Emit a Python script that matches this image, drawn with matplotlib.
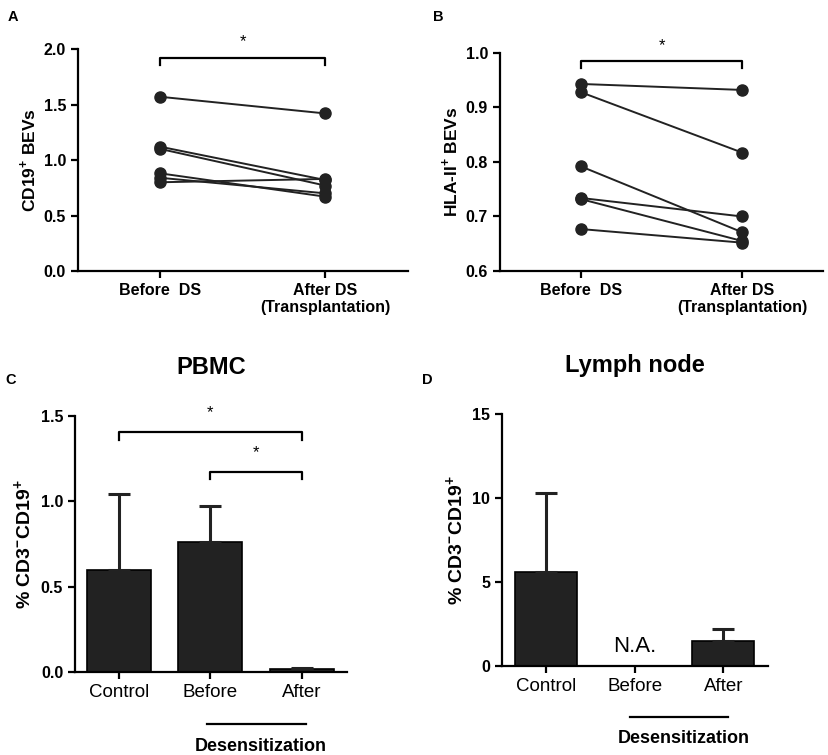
import matplotlib
matplotlib.use("Agg")
import matplotlib.pyplot as plt
import numpy as np

plt.rcParams['font.family'] = ['Liberation Sans', 'DejaVu Sans']
plt.rcParams['mathtext.fontset'] = 'custom'
plt.rcParams['mathtext.rm'] = 'Liberation Sans'
plt.rcParams['mathtext.bf'] = 'Liberation Sans:bold'

# panel A: CD19+ BEVs, paired samples
a_before = [1.57, 1.12, 1.10, 0.88, 0.84, 0.80]
a_after = [1.42, 0.82, 0.77, 0.67, 0.70, 0.83]

# panel B: HLA-II+ BEVs, paired samples
b_before = [0.943, 0.928, 0.792, 0.734, 0.732, 0.677]
b_after = [0.932, 0.817, 0.671, 0.700, 0.655, 0.652]

pair_labels = ['Before  DS', 'After DS\n(Transplantation)']

# panels C and D: bar means with upper error
groups = ['Control', 'Before', 'After']
c_mean = [0.60, 0.76, 0.02]
c_err = [0.44, 0.21, 0.005]
d_mean = [5.6, np.nan, 1.47]
d_err = [4.7, np.nan, 0.70]

dark = '#222222'

fig = plt.figure(figsize=(8.29, 7.55), dpi=100)
axA = fig.add_axes([0.094, 0.641, 0.398, 0.294])
axB = fig.add_axes([0.603, 0.641, 0.390, 0.289])
axC = fig.add_axes([0.0905, 0.110, 0.3285, 0.339])
axD = fig.add_axes([0.6055, 0.118, 0.3205, 0.334])


def style(ax):
    for s in ['top', 'right']:
        ax.spines[s].set_visible(False)
    for s in ['left', 'bottom']:
        ax.spines[s].set_linewidth(1.6)
    ax.tick_params(width=1.6, length=5, direction='out')


def bracket(ax, x0, x1, y, drop, star_y, fs=12):
    ax.plot([x0, x0, x1, x1], [y - drop, y, y, y - drop], color='black',
            lw=1.6, clip_on=False)
    ax.text((x0 + x1) / 2, star_y, '*', ha='center', va='center',
            fontsize=fs, clip_on=False)


# A
for b, a in zip(a_before, a_after):
    axA.plot([0, 1], [b, a], color=dark, lw=1.4, marker='o', ms=8,
             clip_on=False)
axA.set_xlim(-0.5, 1.5)
axA.set_ylim(0, 2.0)
axA.set_yticks([0, 0.5, 1.0, 1.5, 2.0])
axA.set_yticklabels(['0.0', '0.5', '1.0', '1.5', '2.0'])
axA.set_xticks([0, 1])
axA.set_xticklabels(pair_labels)
style(axA)
for lab in axA.get_xticklabels() + axA.get_yticklabels():
    lab.set_fontweight('bold')
    lab.set_fontsize(11.5)
axA.set_ylabel(r'CD19$^{\mathbf{+}}$ BEVs', fontsize=12.5, fontweight='bold')
bracket(axA, 0, 1, 1.92, 0.065, 2.07)
fig.text(0.009, 0.978, 'A', fontsize=10.5, fontweight='bold', va='center')

# B
for b, a in zip(b_before, b_after):
    axB.plot([0, 1], [b, a], color=dark, lw=1.4, marker='o', ms=8,
             clip_on=False)
axB.set_xlim(-0.5, 1.5)
axB.set_ylim(0.6, 1.0)
axB.set_yticks([0.6, 0.7, 0.8, 0.9, 1.0])
axB.set_xticks([0, 1])
axB.set_xticklabels(pair_labels)
style(axB)
for lab in axB.get_xticklabels() + axB.get_yticklabels():
    lab.set_fontweight('bold')
    lab.set_fontsize(11.5)
axB.set_ylabel(r'HLA-II$^{\mathbf{+}}$ BEVs', fontsize=12.5, fontweight='bold')
bracket(axB, 0, 1, 0.985, 0.013, 1.013)
fig.text(0.522, 0.978, 'B', fontsize=10.5, fontweight='bold', va='center')

# C
x = np.arange(len(groups))
axC.bar(x, c_mean, width=0.7, color=dark, edgecolor='black', linewidth=1.2)
axC.errorbar(x, c_mean, yerr=[np.zeros(3), c_err], fmt='none', ecolor=dark,
             elinewidth=2.2, capsize=8, capthick=2.2)
axC.set_xlim(-0.48, 2.5)
axC.set_ylim(0, 1.5)
axC.set_yticks([0, 0.5, 1.0, 1.5])
axC.set_yticklabels(['0.0', '0.5', '1.0', '1.5'])
axC.set_xticks(x)
axC.set_xticklabels(groups, fontsize=13.5)
style(axC)
for lab in axC.get_yticklabels():
    lab.set_fontweight('bold')
    lab.set_fontsize(11.5)
axC.set_ylabel(r'% CD3$^{\mathbf{-}}$CD19$^{\mathbf{+}}$', fontsize=14,
               fontweight='bold')
axC.set_title('PBMC', fontsize=17, fontweight='bold', pad=30)
bracket(axC, 0, 2, 1.405, 0.045, 1.52)
bracket(axC, 1, 2, 1.17, 0.04, 1.285)
tr = axC.get_xaxis_transform()
axC.plot([0.96, 2.05], [-0.203, -0.203], color='black', lw=1.6,
         transform=tr, clip_on=False)
axC.text(1.55, -0.29, 'Desensitization', transform=tr, ha='center',
         va='center', fontsize=13, fontweight='bold')
fig.text(0.006, 0.497, 'C', fontsize=10.5, fontweight='bold', va='center')

# D
axD.bar(x, d_mean, width=0.7, color=dark, edgecolor='black', linewidth=1.2)
axD.errorbar(x, d_mean, yerr=[np.zeros(3), d_err], fmt='none', ecolor=dark,
             elinewidth=2.2, capsize=8, capthick=2.2)
axD.text(1, 0.8, 'N.A.', ha='center', va='baseline', fontsize=16)
axD.set_xlim(-0.5, 2.5)
axD.set_ylim(0, 15)
axD.set_yticks([0, 5, 10, 15])
axD.set_xticks(x)
axD.set_xticklabels(groups, fontsize=13.5)
style(axD)
for lab in axD.get_yticklabels():
    lab.set_fontweight('bold')
    lab.set_fontsize(11.5)
axD.set_ylabel(r'% CD3$^{\mathbf{-}}$CD19$^{\mathbf{+}}$', fontsize=14,
               fontweight='bold')
axD.set_title('Lymph node', fontsize=17, fontweight='bold', pad=30)
tr = axD.get_xaxis_transform()
axD.plot([0.95, 2.05], [-0.202, -0.202], color='black', lw=1.6,
         transform=tr, clip_on=False)
axD.text(1.55, -0.286, 'Desensitization', transform=tr, ha='center',
         va='center', fontsize=13, fontweight='bold')
fig.text(0.509, 0.497, 'D', fontsize=10.5, fontweight='bold', va='center')

fig.savefig('out.png', dpi=100)
